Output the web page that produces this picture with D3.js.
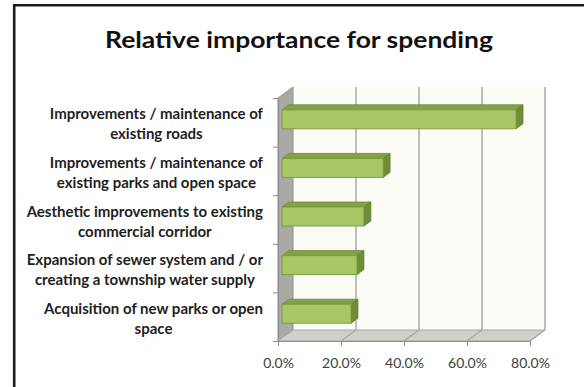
<!DOCTYPE html>
<html>
<head>
<meta charset="utf-8">
<script src="https://cdn.jsdelivr.net/npm/d3@7/dist/d3.min.js"></script>
<style>
  html, body { margin: 0; padding: 0; background: #ffffff; }
  svg { display: block; }
</style>
</head>
<body>
<svg id="chart" width="584" height="387"></svg>
<script>
// Survey results: share of respondents ranking each item for spending
const title = "Relative importance for spending";
const categories = [
  "Improvements / maintenance of\nexisting roads",
  "Improvements / maintenance of\nexisting parks and open space",
  "Aesthetic improvements to existing\ncommercial corridor",
  "Expansion of sewer system and / or\ncreating a township water supply",
  "Acquisition of new parks or open\nspace"
];
const values = [0.743, 0.321, 0.26, 0.238, 0.219];
const tickValues = [0, 0.2, 0.4, 0.6, 0.8];

const W = 584, H = 387;
const font = "Lato, 'Open Sans', sans-serif";
const svg = d3.select("#chart");

svg.append("rect").attr("width", W).attr("height", H).attr("fill", "#ffffff");

// Chart frame (left and top edges)
svg.append("path")
  .attr("d", `M14.2,${H} V5.2 H${W}`)
  .attr("fill", "none")
  .attr("stroke", "#1c1c1c")
  .attr("stroke-width", 2.6);

// Title
svg.append("text")
  .attr("x", 299).attr("y", 48)
  .attr("text-anchor", "middle")
  .attr("font-family", font)
  .attr("font-weight", 700)
  .attr("font-size", 23.5)
  .attr("textLength", 388)
  .attr("lengthAdjust", "spacingAndGlyphs")
  .attr("fill", "#111111")
  .text(title);

// Plot geometry: front plane of the 3-D box plus depth offset
const plotTop = 98, plotBottom = 341;
const depth = { dx: 15, dy: -11 };
const x = d3.scaleLinear().domain([0, 0.8]).range([278, 530]);
const y = d3.scaleBand().domain(categories).range([plotTop, plotBottom])
  .paddingInner(0.61).paddingOuter(0.305);
const yEdge = d3.scaleLinear().domain([0, categories.length]).range([plotTop, plotBottom]);
const barNear = 0.27, barFar = 0.73;

const x0 = x(0), x1 = x(0.8);
const pts = a => a.map(p => p.join(",")).join(" ");

// Back wall
svg.append("rect")
  .attr("x", x0 + depth.dx).attr("y", plotTop + depth.dy)
  .attr("width", x1 - x0).attr("height", plotBottom - plotTop)
  .attr("fill", "#fbfcf6");

// Side wall
svg.append("polygon")
  .attr("points", pts([[x0, plotTop], [x0 + depth.dx, plotTop + depth.dy],
                       [x0 + depth.dx, plotBottom + depth.dy], [x0, plotBottom]]))
  .attr("fill", "#a9aaa6").attr("stroke", "#8f908d").attr("stroke-width", 1);

// Floor
svg.append("polygon")
  .attr("points", pts([[x0, plotBottom], [x0 + depth.dx, plotBottom + depth.dy],
                       [x1 + depth.dx, plotBottom + depth.dy], [x1, plotBottom]]))
  .attr("fill", "#cfd0cb").attr("stroke", "#a8a8a5").attr("stroke-width", 1);

// Gridlines across floor and back wall
svg.append("g").selectAll("polyline")
  .data(tickValues.filter(t => t > 0))
  .join("polyline")
  .attr("points", t => pts([[x(t), plotBottom], [x(t) + depth.dx, plotBottom + depth.dy],
                            [x(t) + depth.dx, plotTop + depth.dy]]))
  .attr("fill", "none").attr("stroke", "#a6a6a6").attr("stroke-width", 1.4);

// Bars
const ox = barNear * depth.dx, oy = barNear * depth.dy;
const bx = (barFar - barNear) * depth.dx, by = (barFar - barNear) * depth.dy;
const h = y.bandwidth();
const bars = svg.append("g").selectAll("g")
  .data(categories.map((c, i) => ({ c, v: values[i] })))
  .join("g");

bars.append("polygon")
  .attr("points", d => {
    const xl = x(0) + ox, xr = x(d.v) + ox, yt = y(d.c) + oy;
    return pts([[xl, yt], [xr, yt], [xr + bx, yt + by], [xl + bx, yt + by]]);
  })
  .attr("fill", "#84a146").attr("stroke", "#6e8a36").attr("stroke-width", 0.8);

bars.append("polygon")
  .attr("points", d => {
    const xr = x(d.v) + ox, yt = y(d.c) + oy;
    return pts([[xr, yt], [xr + bx, yt + by], [xr + bx, yt + by + h], [xr, yt + h]]);
  })
  .attr("fill", "#718d37").attr("stroke", "#627b2e").attr("stroke-width", 0.8);

bars.append("rect")
  .attr("x", x(0) + ox).attr("y", d => y(d.c) + oy)
  .attr("width", d => x(d.v) - x(0)).attr("height", h)
  .attr("fill", "#a7c665").attr("stroke", "#7b9a3e").attr("stroke-width", 0.9);

// Value axis
const xAxis = svg.append("g")
  .attr("transform", `translate(0,${plotBottom})`)
  .call(d3.axisBottom(x).tickValues(tickValues).tickFormat(d3.format(".1%"))
    .tickSizeInner(5).tickSizeOuter(0).tickPadding(12));
xAxis.select(".domain").attr("stroke", "#8c8c8c");
xAxis.selectAll(".tick line").attr("stroke", "#8c8c8c");
xAxis.selectAll(".tick text")
  .attr("font-family", font)
  .attr("font-size", 14)
  .attr("fill", "#404040");

// Category axis (ticks at band edges)
const yAxis = svg.append("g")
  .attr("transform", `translate(${x0},0)`)
  .call(d3.axisLeft(yEdge).tickValues(d3.range(categories.length + 1))
    .tickFormat("").tickSizeInner(5).tickSizeOuter(0));
yAxis.select(".domain").attr("stroke", "#8c8c8c");
yAxis.selectAll(".tick line").attr("stroke", "#8c8c8c");

// Category labels: each block right-aligned, lines centred within the block
const labelRight = 263, lineGap = 20;
const labels = svg.append("g")
  .attr("font-family", font)
  .attr("font-weight", 700)
  .attr("font-size", 15)
  .attr("fill", "#1e1e1e");

categories.forEach(c => {
  const lines = c.split("\n");
  const g = labels.append("g");
  const cy = y(c) + h / 2;
  const t = g.selectAll("text").data(lines).join("text")
    .attr("text-anchor", "middle")
    .attr("y", (d, i) => cy + (i - (lines.length - 1) / 2) * lineGap + 7)
    .text(d => d);
  const maxW = d3.max(t.nodes(), n => n.getComputedTextLength());
  t.attr("x", labelRight - maxW / 2);
});
</script>
</body>
</html>
